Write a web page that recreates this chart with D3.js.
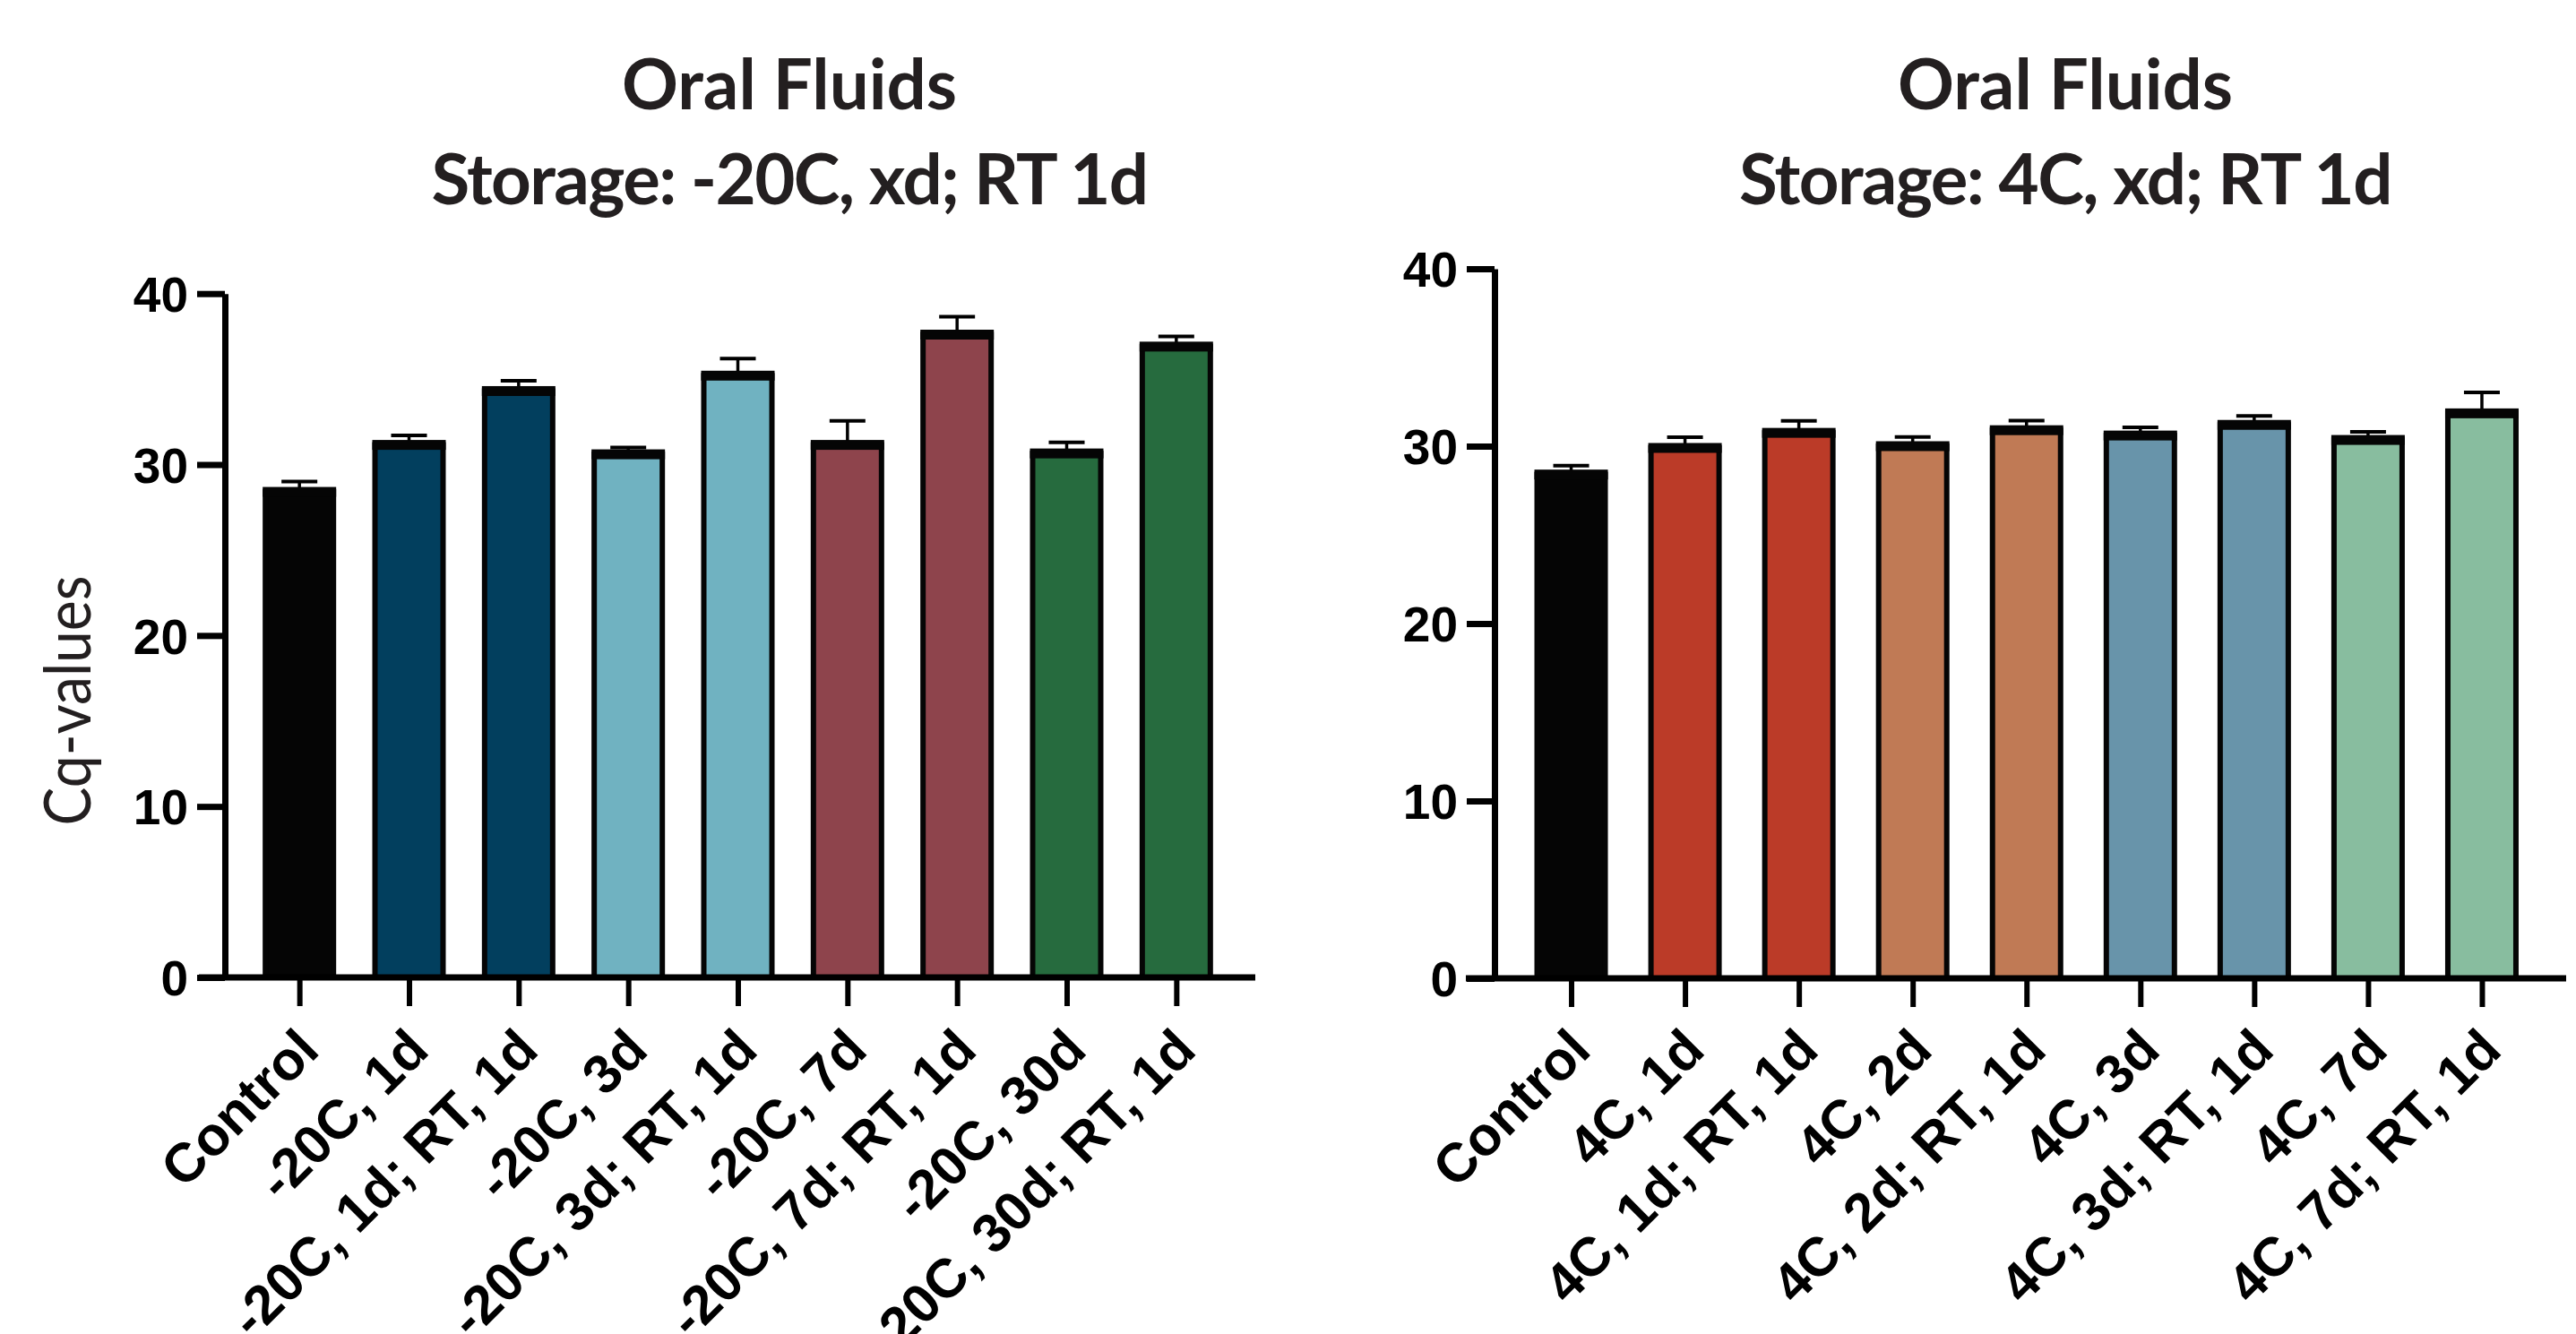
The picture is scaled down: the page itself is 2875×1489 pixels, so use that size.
<!DOCTYPE html>
<html>
<head>
<meta charset="utf-8">
<script src="https://cdn.jsdelivr.net/npm/d3@7/dist/d3.min.js"></script>
<style>
	html, body { margin: 0; padding: 0; background: #fff; }
	svg { display: block; }
	.title { font-family: Lato, 'Open Sans', sans-serif; font-weight: 700; fill: #231f20; }
	.ylabel { font-family: Lato, 'Open Sans', sans-serif; font-weight: 400; fill: #231f20; }
	.axis text { font-family: 'Liberation Sans', Arial, sans-serif; font-weight: 700; fill: #000; }
</style>
</head>
<body>
<svg class="chart" width="2875" height="1489"></svg>
<script>
(function() {

	// DATA
	var yTicks = [0, 10, 20, 30, 40];

	var leftTitle = ['Oral Fluids', 'Storage: -20C, xd; RT 1d'];
	var leftCategories = ['Control', '-20C, 1d', '-20C, 1d; RT, 1d', '-20C, 3d', '-20C, 3d; RT, 1d',
		'-20C, 7d', '-20C, 7d; RT, 1d', '-20C, 30d', '-20C, 30d; RT, 1d'];
	var leftMeans = [28.4, 31.15, 34.3, 30.6, 35.2, 31.15, 37.6, 30.65, 36.9];
	var leftErrors = [0.6, 0.55, 0.6, 0.4, 1.0, 1.4, 1.05, 0.65, 0.6];

	var rightTitle = ['Oral Fluids', 'Storage: 4C, xd; RT 1d'];
	var rightCategories = ['Control', '4C, 1d', '4C, 1d; RT, 1d', '4C, 2d', '4C, 2d; RT, 1d',
		'4C, 3d', '4C, 3d; RT, 1d', '4C, 7d', '4C, 7d; RT, 1d'];
	var rightMeans = [28.4, 29.9, 30.75, 30.0, 30.9, 30.6, 31.2, 30.35, 31.85];
	var rightErrors = [0.5, 0.6, 0.68, 0.52, 0.54, 0.46, 0.5, 0.46, 1.18];

	var yLabel = 'Cq-values';

	// colours per bar
	var leftColors = ['#050505', '#023f5e', '#023f5e', '#70b2c1', '#70b2c1',
		'#8e444c', '#8e444c', '#266b3e', '#266b3e'];
	var rightColors = ['#050505', '#bb3b28', '#bb3b28', '#c07a55', '#c07a55',
		'#6894aa', '#6894aa', '#88bd9f', '#88bd9f'];

	// LAYOUT
	var panels = [
		{ title: leftTitle, cats: leftCategories, means: leftMeans, errs: leftErrors, colors: leftColors,
			axisX: 251, y0: 1091, y40: 327.7, bandStart: 273, bandEnd: 1374,
			lineStart: 222, lineEnd: 1401, titleX: 881 },
		{ title: rightTitle, cats: rightCategories, means: rightMeans, errs: rightErrors, colors: rightColors,
			axisX: 1668, y0: 1092, y40: 300, bandStart: 1690, bandEnd: 2833.5,
			lineStart: 1636, lineEnd: 2864, titleX: 2305 }
	];

	var barWidth = 82;
	var sideStroke = 6;
	var topBand = 11;
	var capHalf = 20;

	var svg = d3.select('.chart');

	function drawPanel(p) {
		var g = svg.append('g');

		var x = d3.scalePoint()
			.domain(p.cats)
			.range([p.bandStart, p.bandEnd])
			.padding(0.5);

		var y = d3.scaleLinear()
			.domain([0, 40])
			.range([p.y0, p.y40]);

		var rows = p.cats.map(function(c, i) {
			return { cat: c, mean: p.means[i], err: p.errs[i], color: p.colors[i] };
		});

		// titles
		g.selectAll('.title')
			.data(p.title)
			.enter()
			.append('text')
			.attr('class', 'title')
			.attr('x', p.titleX)
			.attr('y', function(d, i) { return i === 0 ? 122 : 228; })
			.attr('text-anchor', 'middle')
			.style('font-size', '78px')
			.style('letter-spacing', function(d, i) { return i === 0 ? '0px' : '-1.6px'; })
			.text(function(d) { return d; });

		// error bars (behind bars)
		var err = g.selectAll('.err')
			.data(rows)
			.enter()
			.append('g')
			.attr('class', 'err');

		err.append('line')
			.attr('x1', function(d) { return x(d.cat); })
			.attr('x2', function(d) { return x(d.cat); })
			.attr('y1', function(d) { return y(d.mean); })
			.attr('y2', function(d) { return y(d.mean + d.err); })
			.attr('stroke', '#000')
			.attr('stroke-width', 3.5);

		err.append('line')
			.attr('x1', function(d) { return x(d.cat) - capHalf; })
			.attr('x2', function(d) { return x(d.cat) + capHalf; })
			.attr('y1', function(d) { return y(d.mean + d.err); })
			.attr('y2', function(d) { return y(d.mean + d.err); })
			.attr('stroke', '#000')
			.attr('stroke-width', 4);

		// bars
		var bars = g.selectAll('.bar')
			.data(rows)
			.enter()
			.append('g')
			.attr('class', 'bar');

		bars.append('rect')
			.attr('x', function(d) { return x(d.cat) - barWidth / 2 + sideStroke / 2; })
			.attr('width', barWidth - sideStroke)
			.attr('y', function(d) { return y(d.mean); })
			.attr('height', function(d) { return y(0) - y(d.mean); })
			.attr('fill', function(d) { return d.color; })
			.attr('stroke', '#050505')
			.attr('stroke-width', sideStroke);

		// thick mean line on top of each bar
		bars.append('rect')
			.attr('x', function(d) { return x(d.cat) - barWidth / 2; })
			.attr('width', barWidth)
			.attr('y', function(d) { return y(d.mean) - topBand / 2; })
			.attr('height', topBand)
			.attr('fill', '#050505');

		// y axis
		var yAxis = g.append('g')
			.attr('class', 'axis axis--y')
			.attr('transform', 'translate(' + p.axisX + ',0)')
			.call(d3.axisLeft(y).tickValues(yTicks).tickSize(31).tickSizeOuter(0).tickPadding(10));

		yAxis.select('.domain').attr('stroke', '#000').attr('stroke-width', 7);
		yAxis.selectAll('.tick line').attr('stroke', '#000').attr('stroke-width', 7);
		yAxis.selectAll('.tick text').style('font-size', '55px').attr('dy', '0.36em');

		// x axis
		g.append('line')
			.attr('x1', p.lineStart)
			.attr('x2', p.lineEnd)
			.attr('y1', y(0))
			.attr('y2', y(0))
			.attr('stroke', '#000')
			.attr('stroke-width', 7);

		var xAxis = g.append('g')
			.attr('class', 'axis axis--x')
			.attr('transform', 'translate(0,' + y(0) + ')')
			.call(d3.axisBottom(x).tickSize(32).tickSizeOuter(0));

		xAxis.select('.domain').remove();
		xAxis.selectAll('.tick line').attr('stroke', '#000').attr('stroke-width', 6);
		xAxis.selectAll('.tick text')
			.style('font-size', '61px')
			.attr('text-anchor', 'end')
			.attr('dy', 0)
			.attr('y', 0)
			.attr('transform', 'translate(24,' + (1175 - y(0)) + ') rotate(-45)');
	}

	panels.forEach(drawPanel);

	// y axis label (left panel only)
	svg.append('text')
		.attr('class', 'ylabel')
		.attr('transform', 'translate(101,782) rotate(-90)')
		.attr('text-anchor', 'middle')
		.attr('textLength', 279)
		.attr('lengthAdjust', 'spacingAndGlyphs')
		.style('font-size', '72px')
		.text(yLabel);

})()
</script>
</body>
</html>
